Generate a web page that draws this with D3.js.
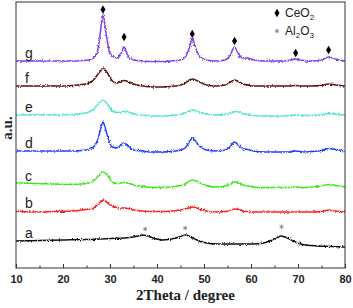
<!DOCTYPE html>
<html>
<head>
<meta charset="utf-8">
<script src="https://cdn.jsdelivr.net/npm/d3@7"></script>
<style>
  body { margin: 0; background: #fff; }
  svg { display: block; }
</style>
</head>
<body>
<div id="chart"></div>
<script>
// 2Theta grid shared by traces b..g
const thetaGrid = [10, 14, 18, 22, 24, 25.5, 26.5, 27.3, 28, 28.5, 29, 29.7, 30.5, 31.5, 32.3, 33, 33.8, 35, 37, 39,
  41, 43, 45, 46, 47, 47.5, 48, 49, 50.5, 52.5, 54.5, 55.5, 56.5, 57.3, 58.3, 59.3, 60.5, 63, 66, 68,
  69.5, 71, 73, 75, 76.5, 78, 80];

// trace a has its own points (Al2O3 humps)
const thetaA = [10, 15, 20, 25, 30, 33, 35, 36, 37, 38, 39.5, 41, 43, 45, 46, 47, 48.5, 50, 53, 56,
  59, 62, 64, 65.5, 66.5, 67.5, 69, 71, 74, 77, 80];
const intA = [0, 0.5, 1, 1.5, 2.5, 3, 4, 5, 6, 5, 2.5, 1, 2, 4.5, 6, 4.5, 1, -1.5, -3, -3,
  -3, -2.5, 0, 3.5, 5, 3.5, 0, -3.5, -5, -5.5, -6];

const intB = [0, -1, -0.5, 0, 1, 2, 3, 6, 9, 11, 10, 7, 5, 3.5, 3, 3, 2.5, 1, 0, -0.5,
  -0.5, 0, 1, 2, 3.5, 4, 3.5, 2, 0, -1, -0.5, 0.5, 2, 1.5, 0, -0.5, -1, -1, -1, -1,
  -1, -1, -1, -0.5, 1, 0, -1];
const intC = [1, 0.5, 0, -0.5, 0, 1, 3, 7, 11, 12, 11, 7, 2, 0.5, 1, 1.5, 1, -1, -2.5, -3.5,
  -3.5, -3, -1.5, 0, 3, 4, 3.5, 1.5, -1.5, -3, -2, 0, 2, 1, -1, -2, -3, -3.5, -3.5, -3.5,
  -3, -3.5, -3, -2, -0.5, -1.5, -3];
const intD = [0, 0, 0, 0, 0.5, 1.5, 4, 10, 22, 29, 23, 11, 4, 3, 6, 8, 5, 1, 0, -1,
  -1, -0.5, 1, 3, 10, 13, 11, 5, 1, 0, 1, 4, 9, 6, 2.5, 1.5, 0, -1, -1, -1,
  0, -1, -0.5, 0.5, 2.5, 1.5, 0];
const intE = [0, 0, 0, 0.5, 1.5, 3, 5.5, 10, 13, 15, 13.5, 9, 4, 2.5, 3, 3.5, 3, 1, 0, -1,
  -1, -0.5, 0.5, 2, 4, 5, 4.5, 3, 1, 0, 0.5, 2, 3.5, 3, 1.5, 0.5, -0.5, -1, -1, -0.5,
  0, -0.5, -0.5, 0, 1.5, 0.5, 0];
const intF = [0, 0, 0, 0.5, 1.5, 3, 6, 11, 15, 18, 16, 11, 5, 3, 4.5, 5.5, 4.5, 2, 0, -1,
  -1, -0.5, 1, 3, 6, 7, 6.5, 4, 1, 0, 1, 3.5, 6, 4.5, 2, 1, 0, 0, 0, 0,
  0.5, 0, 0, 0.5, 2, 1, 0];
const intG = [0, 0, 0, 0, 0.5, 1, 3, 9, 31, 47, 33, 13, 5, 3, 7, 14, 5, 1, 0, -0.5,
  -0.5, 0, 1, 4, 15, 23, 16, 5, 1, 0, 1, 5, 14, 7, 3, 3, 1, 0, 0, 0.5,
  2, 0.5, 0, 1, 4, 2, 0];

const sampleNames = ["a", "b", "c", "d", "e", "f", "g"];
const sampleOffsets = [27, 57, 84, 117, 153, 182, 207];
const sampleColors = ["#111111", "#ff2020", "#40e620", "#1f3dff", "#52e4d2", "#5a1414", "#7b3fe6"];

// CeO2 reflections marked over trace g, Al2O3 over trace a
const ceo2Theta = [28.5, 33, 47.5, 56.5, 69.5, 76.5];
const ceo2Mark = [258.5, 231, 234, 227, 215, 218];
const al2o3Theta = [37.5, 46, 66.5];
const al2o3Mark = [39, 40, 41.3];

const xTicks = [10, 20, 30, 40, 50, 60, 70, 80];
const xMinorTicks = [15, 25, 35, 45, 55, 65, 75];

const W = 353, H = 308;
const margin = {top: 2, right: 8, bottom: 40, left: 16};
const width = W - margin.left - margin.right;
const height = H - margin.top - margin.bottom;

const svg = d3.select("#chart").append("svg")
  .attr("width", W)
  .attr("height", H);

// noisy detector look
const defs = svg.append("defs");
const filt = defs.append("filter")
  .attr("id", "noise")
  .attr("filterUnits", "userSpaceOnUse")
  .attr("x", 0).attr("y", 0).attr("width", W).attr("height", H);
filt.append("feTurbulence")
  .attr("type", "fractalNoise")
  .attr("baseFrequency", "0.9 0.6")
  .attr("numOctaves", 2)
  .attr("result", "turb");
filt.append("feDisplacementMap")
  .attr("in", "SourceGraphic")
  .attr("in2", "turb")
  .attr("scale", 3)
  .attr("xChannelSelector", "R")
  .attr("yChannelSelector", "G");

const x = d3.scaleLinear().domain([10, 80]).range([0, width]);
const y = d3.scaleLinear().domain([0, 266]).range([height, 0]);

const g = svg.append("g")
  .attr("transform", "translate(" + margin.left + "," + margin.top + ")");

const traces = [
  {theta: thetaA, vals: intA},
  {theta: thetaGrid, vals: intB},
  {theta: thetaGrid, vals: intC},
  {theta: thetaGrid, vals: intD},
  {theta: thetaGrid, vals: intE},
  {theta: thetaGrid, vals: intF},
  {theta: thetaGrid, vals: intG}
];

const line = d3.line()
  .x(d => x(d[0]))
  .y(d => y(d[1]))
  .curve(d3.curveMonotoneX);

traces.forEach(function(t, i) {
  const pts = t.theta.map((th, j) => [th, sampleOffsets[i] + t.vals[j]]);
  g.append("path")
    .datum(pts)
    .attr("fill", "none")
    .attr("stroke", sampleColors[i])
    .attr("stroke-width", 1.5)
    .attr("filter", "url(#noise)")
    .attr("d", line);

  g.append("text")
    .attr("x", 9)
    .attr("y", y(sampleOffsets[i]) - 3)
    .attr("font-family", "Arial, 'Liberation Sans', sans-serif")
    .attr("font-size", 14)
    .attr("fill", "#222")
    .text(sampleNames[i]);
});

// phase markers
g.selectAll(".ce")
  .data(ceo2Theta)
  .enter().append("path")
  .attr("transform", (d, i) => "translate(" + x(d) + "," + y(ceo2Mark[i]) + ")")
  .attr("d", d3.symbol().type(d3.symbolDiamond).size(22))
  .attr("fill", "#000");

const starType = d3.symbolAsterisk || d3.symbolCross;
g.selectAll(".al")
  .data(al2o3Theta)
  .enter().append("path")
  .attr("transform", (d, i) => "translate(" + x(d) + "," + y(al2o3Mark[i]) + ")")
  .attr("d", d3.symbol().type(starType).size(14))
  .attr("fill", "none")
  .attr("stroke", "#888")
  .attr("stroke-width", 1);

// frame
g.append("rect")
  .attr("width", width)
  .attr("height", height)
  .attr("fill", "none")
  .attr("stroke", "#333")
  .attr("stroke-width", 1);

// bottom axis, ticks pointing in
const xAxis = d3.axisBottom(x)
  .tickValues(xTicks)
  .tickSize(-4)
  .tickPadding(7)
  .tickFormat(d3.format("d"));
const ax = g.append("g")
  .attr("transform", "translate(0," + height + ")")
  .call(xAxis);
ax.select(".domain").remove();
ax.selectAll("text")
  .attr("font-family", "Arial, 'Liberation Sans', sans-serif")
  .attr("font-weight", "bold")
  .attr("font-size", 11)
  .attr("fill", "#222");
ax.selectAll("line").attr("stroke", "#333");

const minorAxis = d3.axisBottom(x)
  .tickValues(xMinorTicks)
  .tickSize(-2.5)
  .tickFormat("");
const mx = g.append("g")
  .attr("transform", "translate(0," + height + ")")
  .call(minorAxis);
mx.select(".domain").remove();
mx.selectAll("line").attr("stroke", "#333");

// axis titles
svg.append("text")
  .attr("x", margin.left + width / 2 + 5)
  .attr("y", 300)
  .attr("text-anchor", "middle")
  .attr("font-family", "'Liberation Serif', 'Times New Roman', serif")
  .attr("font-weight", "bold")
  .attr("font-size", 15)
  .attr("fill", "#222")
  .text("2Theta / degree");

svg.append("text")
  .attr("transform", "translate(12,128) rotate(-90)")
  .attr("text-anchor", "middle")
  .attr("font-family", "'Liberation Serif', 'Times New Roman', serif")
  .attr("font-weight", "bold")
  .attr("font-size", 15)
  .attr("fill", "#222")
  .text("a.u.");

// legend
const legend = svg.append("g")
  .attr("font-family", "Arial, 'Liberation Sans', sans-serif")
  .attr("font-size", 12)
  .attr("fill", "#222");
legend.append("path")
  .attr("transform", "translate(277,13)")
  .attr("d", d3.symbol().type(d3.symbolDiamond).size(22))
  .attr("fill", "#000");
const t1 = legend.append("text").attr("x", 285).attr("y", 17);
t1.append("tspan").text("CeO");
t1.append("tspan").attr("dy", 3).attr("font-size", 8).text("2");

legend.append("path")
  .attr("transform", "translate(277,31)")
  .attr("d", d3.symbol().type(starType).size(14))
  .attr("fill", "none")
  .attr("stroke", "#888");
const t2 = legend.append("text").attr("x", 285).attr("y", 35);
t2.append("tspan").text("Al");
t2.append("tspan").attr("dy", 3).attr("font-size", 8).text("2");
t2.append("tspan").attr("dy", -3).text("O");
t2.append("tspan").attr("dy", 3).attr("font-size", 8).text("3");
</script>
</body>
</html>
